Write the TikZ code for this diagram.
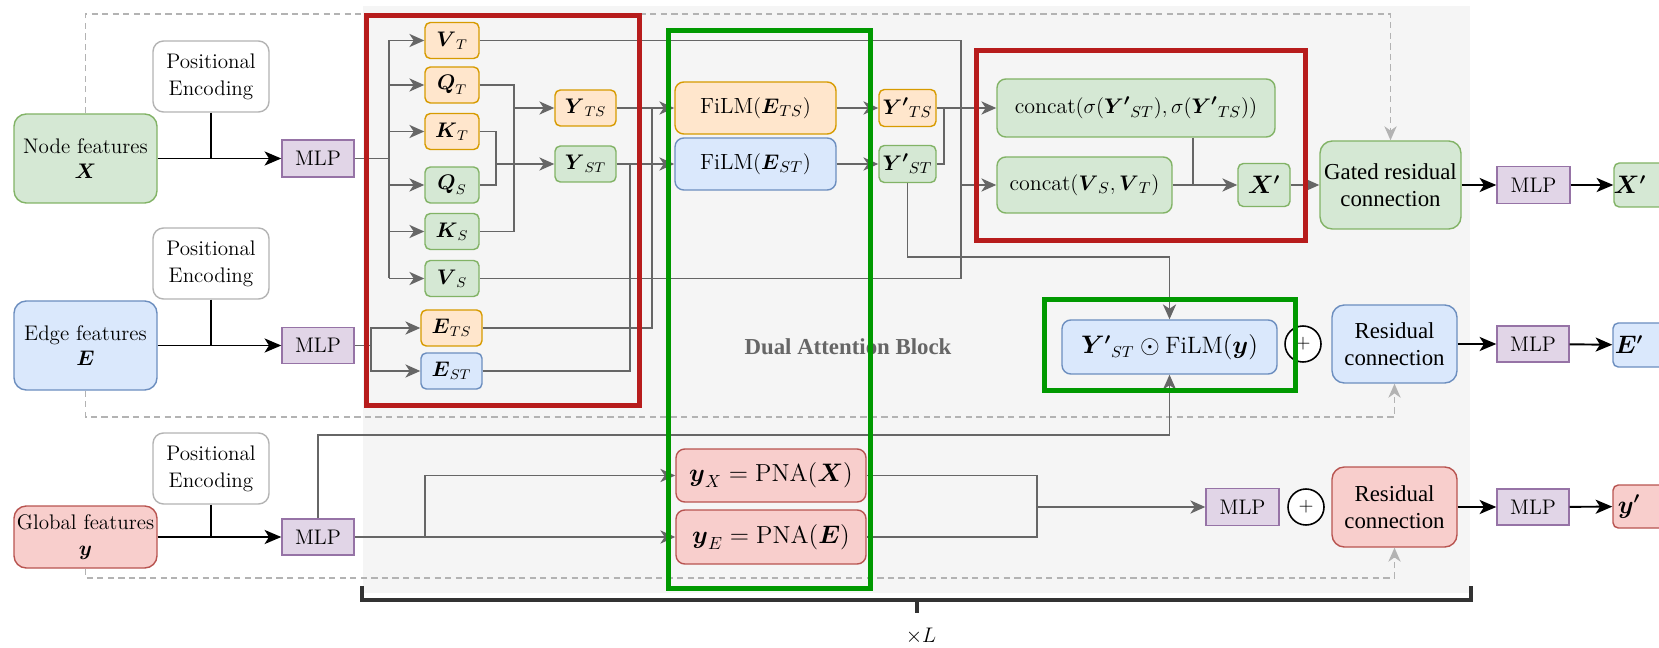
\documentclass[tikz,border=0pt]{standalone}
\usepackage{amsmath}
\usepackage{fontspec}
\usepackage{tikz}
\usetikzlibrary{arrows.meta}
\usetikzlibrary{positioning}
\usetikzlibrary{calc}

\newfontfamily\timesfont{Liberation Serif}

\definecolor{grnfill}{HTML}{D5E8D4}
\definecolor{grndraw}{HTML}{82B366}
\definecolor{bluefill}{HTML}{DAE8FC}
\definecolor{bluedraw}{HTML}{6C8EBF}
\definecolor{orgfill}{HTML}{FFE6CC}
\definecolor{orgdraw}{HTML}{D79B00}
\definecolor{redfill}{HTML}{F8CECC}
\definecolor{reddraw}{HTML}{B85450}
\definecolor{purfill}{HTML}{E1D5E7}
\definecolor{purdraw}{HTML}{9673A6}
\definecolor{pedraw}{HTML}{B3B3B3}
\definecolor{linegray}{HTML}{666666}
\definecolor{bggray}{HTML}{F5F5F5}
\definecolor{blockred}{HTML}{B71C1C}
\definecolor{blockgreen}{HTML}{009900}

\tikzset{
  sz/.style 2 args={minimum width=#1*0.02cm, minimum height=#2*0.02cm, inner sep=0pt},
  box/.style={draw, line width=0.8pt, rounded corners=3pt, align=center},
  gbox/.style={box, fill=grnfill, draw=grndraw},
  bbox/.style={box, fill=bluefill, draw=bluedraw},
  obox/.style={box, fill=orgfill, draw=orgdraw},
  rbox/.style={box, fill=redfill, draw=reddraw},
  mlpbox/.style={draw=purdraw, fill=purfill, line width=0.8pt, font=\fontsize{12}{14}\selectfont},
  pebox/.style={box, draw=pedraw, fill=white, rounded corners=6pt, font=\fontsize{12}{15.5}\selectfont},
  featbox/.style={rounded corners=7pt, font=\fontsize{12}{14.5}\selectfont},
  resbox/.style={rounded corners=7pt, font=\timesfont\fontsize{13}{15.5}\selectfont},
  small/.style={font=\fontsize{12}{13}\selectfont},
  mid/.style={rounded corners=5pt, font=\fontsize{12.5}{14}\selectfont},
  outbox/.style={font=\fontsize{13.5}{15}\selectfont},
  plus/.style={circle, draw, line width=0.9pt, fill=white, minimum size=36*0.02cm, inner sep=0pt, font=\fontsize{11}{11}\selectfont},
  conn/.style={draw=linegray, line width=1pt},
  arr/.style={conn, -{Stealth[length=8.5pt,width=7.5pt,inset=2.5pt]}},
  blk/.style={line width=1.1pt, -{Stealth[length=9.5pt,width=8pt,inset=2.5pt]}},
  skip/.style={draw=pedraw, line width=0.8pt, dash pattern=on 3.5pt off 2.5pt, -{Stealth[length=8pt,width=7pt,inset=2.5pt,fill=pedraw]}},
  blockframe/.style={line width=2.8pt},
}

\begin{document}
\begin{tikzpicture}[x=0.02cm,y=-0.02cm]
\useasboundingbox (0,0) rectangle (1659,648);

% shaded block
\fill[bggray] (363,6) rectangle (1470,593);
\node[font=\timesfont\bfseries\fontsize{13}{15}\selectfont, text=linegray] (dab) at (848,347) {Dual Attention Block};

% inputs
\node[gbox, featbox, sz={143}{89}] (nodef) at (85.5,158.5) {Node features\\$\boldsymbol{X}$};
\node[bbox, featbox, sz={143}{89}] (edgef) at (85.5,345.5) {Edge features\\$\boldsymbol{E}$};
\node[rbox, featbox, sz={143}{62}] (globf) at (85.5,537) {Global features\\$\boldsymbol{y}$};
\node[pebox, sz={116}{71}] (pe1) at (211,76.5) {Positional\\Encoding};
\node[pebox, sz={116}{71}] (pe2) at (211,263.5) {Positional\\Encoding};
\node[pebox, sz={116}{71}] (pe3) at (211,468.5) {Positional\\Encoding};
\node[mlpbox, sz={72}{37}] (mlpx) at (318,158.5) {MLP};
\node[mlpbox, sz={72}{36}] (mlpe) at (318,345.5) {MLP};
\node[mlpbox, sz={72}{36}] (mlpg) at (318,537) {MLP};

% attention inputs
\node[obox, small, sz={54}{36}] (vt) at (452,40.5) {$\boldsymbol{V}_T$};
\node[obox, small, sz={54}{36}] (qt) at (452,85) {$\boldsymbol{Q}_T$};
\node[obox, small, sz={54}{36}] (kt) at (452,131.5) {$\boldsymbol{K}_T$};
\node[gbox, small, sz={54}{36}] (qs) at (452,185) {$\boldsymbol{Q}_S$};
\node[gbox, small, sz={54}{36}] (ks) at (452,231.5) {$\boldsymbol{K}_S$};
\node[gbox, small, sz={54}{36}] (vs) at (452,278.5) {$\boldsymbol{V}_S$};
\node[obox, small, sz={61}{36}] (yts) at (585.5,108) {$\boldsymbol{Y}_{TS}$};
\node[gbox, small, sz={61}{36}] (yst) at (585.5,164) {$\boldsymbol{Y}_{ST}$};
\node[obox, small, sz={61}{36}] (ets) at (451.5,328) {$\boldsymbol{E}_{TS}$};
\node[bbox, small, sz={61}{36}] (est) at (451.5,371) {$\boldsymbol{E}_{ST}$};

% FiLM and outputs of the block
\node[obox, mid, sz={161}{52}] (filmts) at (755.5,108) {$\mathrm{FiLM}(\boldsymbol{E}_{TS})$};
\node[bbox, mid, sz={161}{52}] (filmst) at (755.5,164) {$\mathrm{FiLM}(\boldsymbol{E}_{ST})$};
\node[obox, font=\fontsize{12.5}{13}\selectfont, sz={57}{37}] (ypts) at (907.5,108) {$\boldsymbol{Y'}_{TS}$};
\node[gbox, font=\fontsize{12.5}{13}\selectfont, sz={57}{37}] (ypst) at (907.5,164) {$\boldsymbol{Y'}_{ST}$};
\node[gbox, mid, sz={278}{58}] (cat1) at (1136,108) {$\mathrm{concat}(\sigma(\boldsymbol{Y'}_{ST}),\sigma(\boldsymbol{Y'}_{TS}))$};
\node[gbox, mid, sz={175}{56}] (cat2) at (1084.5,185) {$\mathrm{concat}(\boldsymbol{V}_S,\boldsymbol{V}_T)$};
\node[gbox, outbox, sz={52}{43}] (xin) at (1264,185) {$\boldsymbol{X'}$};
\node[bbox, mid, font=\fontsize{13.5}{15}\selectfont, sz={215}{54}] (filmy) at (1169.5,347) {$\boldsymbol{Y'}_{ST}\odot\mathrm{FiLM}(\boldsymbol{y})$};
\node[rbox, mid, font=\fontsize{14}{16}\selectfont, sz={190}{53}] (yx) at (771,475.5) {$\boldsymbol{y}_X=\mathrm{PNA}(\boldsymbol{X})$};
\node[rbox, mid, font=\fontsize{14}{16}\selectfont, sz={190}{54}] (ye) at (771,537) {$\boldsymbol{y}_E=\mathrm{PNA}(\boldsymbol{E})$};
\node[mlpbox, sz={73}{37}] (mlpy) at (1242.5,507) {MLP};

% residual part
\node[gbox, resbox, sz={141}{88}] (gated) at (1390.5,185) {Gated residual\\connection};
\node[bbox, resbox, sz={125}{78}] (rese) at (1394.5,344) {Residual\\connection};
\node[rbox, resbox, sz={125}{80}] (resg) at (1394.5,507) {Residual\\connection};
\node[plus] (plus1) at (1303,344) {$+$};
\node[plus] (plus2) at (1306,507) {$+$};
\node[mlpbox, sz={73}{37}] (mlpxo) at (1533.5,185) {MLP};
\node[mlpbox, sz={72}{36}] (mlpeo) at (1533,344) {MLP};
\node[mlpbox, sz={72}{36}] (mlpgo) at (1533,507) {MLP};
\node[gbox, outbox, sz={60}{44}] (xout) at (1644,185) {\hspace*{-16pt}$\boldsymbol{X'}$};
\node[bbox, outbox, sz={60}{44}] (eout) at (1643,345) {\hspace*{-16pt}$\boldsymbol{E'}$};
\node[rbox, outbox, sz={60}{43}] (yout) at (1643,506.5) {\hspace*{-16pt}$\boldsymbol{y'}$};

% helper points
\coordinate (fanx) at (389,158.5);
\coordinate (mrg1) at (514,108);
\coordinate (mrg2) at (496,164);
\coordinate (vmrg) at (961,185);
\coordinate (etsup) at (652,108);
\coordinate (estup) at (630,164);
\coordinate (ebr) at (371,345.5);
\coordinate (ypmrg) at (944,108);
\coordinate (ypdown) at (907.5,257);
\coordinate (catj) at (1193,185);
\coordinate (gup) at (318,435);
\coordinate (gbr) at (425,537);
\coordinate (pj) at (1037,507);
\coordinate (topl) at (85.5,14);
\coordinate (edl) at (85.5,417);
\coordinate (gll) at (85.5,578);

% input rows
\draw[blk] (nodef) -- (mlpx);
\draw[blk] (edgef) -- (mlpe);
\draw[blk] (globf) -- (mlpg);
\draw[line width=1.1pt] (pe1.south) -- (pe1.south |- nodef.east);
\draw[line width=1.1pt] (pe2.south) -- (pe2.south |- edgef.east);
\draw[line width=1.1pt] (pe3.south) -- (pe3.south |- globf.east);

% skip connections
\draw[skip] (nodef.north) -- (topl) -| (gated.north);
\draw[skip] (edgef.south) -- (edl) -| (rese.south);
\draw[skip] (globf.south) -- (gll) -| (resg.south);

% node branch
\draw[conn] (mlpx.east) -- (fanx);
\draw[conn] (vt.west -| fanx) -- (vs.west -| fanx);
\foreach \n in {vt,qt,kt,qs,ks,vs}
  \draw[arr] (\n.west -| fanx) -- (\n.west);
\draw[conn] (qt.east) -| (mrg1) |- (ks.east);
\draw[conn] (kt.east) -| (mrg2) |- (qs.east);
\draw[arr] (mrg1) -- (yts.west);
\draw[arr] (mrg2) -- (yst.west);
\draw[conn] (vt.east) -| (vmrg) |- (vs.east);
\draw[arr] (vmrg) -- (cat2.west);

% edge branch
\draw[conn] (mlpe.east) -- (ebr);
\draw[arr] (ebr) |- (ets.west);
\draw[arr] (ebr) |- (est.west);
\draw[conn] (ets.east) -| (etsup);
\draw[conn] (est.east) -| (estup);

% FiLM
\draw[arr] (yts.east) -- (filmts.west);
\draw[arr] (yst.east) -- (filmst.west);
\draw[arr] (filmts.east) -- (ypts.west);
\draw[arr] (filmst.east) -- (ypst.west);
\draw[arr] (ypts.east) -- (cat1.west);
\draw[conn] (ypst.east) -| (ypmrg);
\draw[arr] (ypst.south) -- (ypdown) -| (filmy.north);
\draw[conn] (catj |- cat1.south) -- (catj);
\draw[arr] (cat2.east) -- (xin.west);
\draw[arr] (xin.east) -- (gated.west);

% global branch
\draw[arr] (mlpg.north) -- (gup) -| (filmy.south);
\draw[arr] (mlpg.east) -- (ye.west);
\draw[arr] (gbr) |- (yx.west);
\draw[conn] (yx.east) -| (pj) |- (ye.east);
\draw[arr] (pj) -- (mlpy.west);

% outputs
\draw[blk] (gated) -- (mlpxo);
\draw[blk] (mlpxo) -- (xout);
\draw[blk] (rese) -- (mlpeo);
\draw[blk] (mlpeo) -- (eout);
\draw[blk] (resg) -- (mlpgo);
\draw[blk] (mlpgo) -- (yout);

% highlighted parts
\draw[blockframe, blockred] (366.5,15.5) rectangle (639.5,405.5);
\draw[blockframe, blockred] (976.5,50.5) rectangle (1305.5,240.5);
\draw[blockframe, blockgreen] (668.5,30.5) rectangle (870.5,588.5);
\draw[blockframe, blockgreen] (1044.5,299.5) rectangle (1295.5,390.5);

% repeat bracket
\draw[line width=2pt, draw=black!80] (362,586) -- (362,600) -- (1471,600) -- (1471,586);
\draw[line width=2pt, draw=black!80] (917,600) -- (917,613);
\node[font=\fontsize{12.5}{14}\selectfont] (rep) at (921,636) {$\times L$};

\end{tikzpicture}
\end{document}
